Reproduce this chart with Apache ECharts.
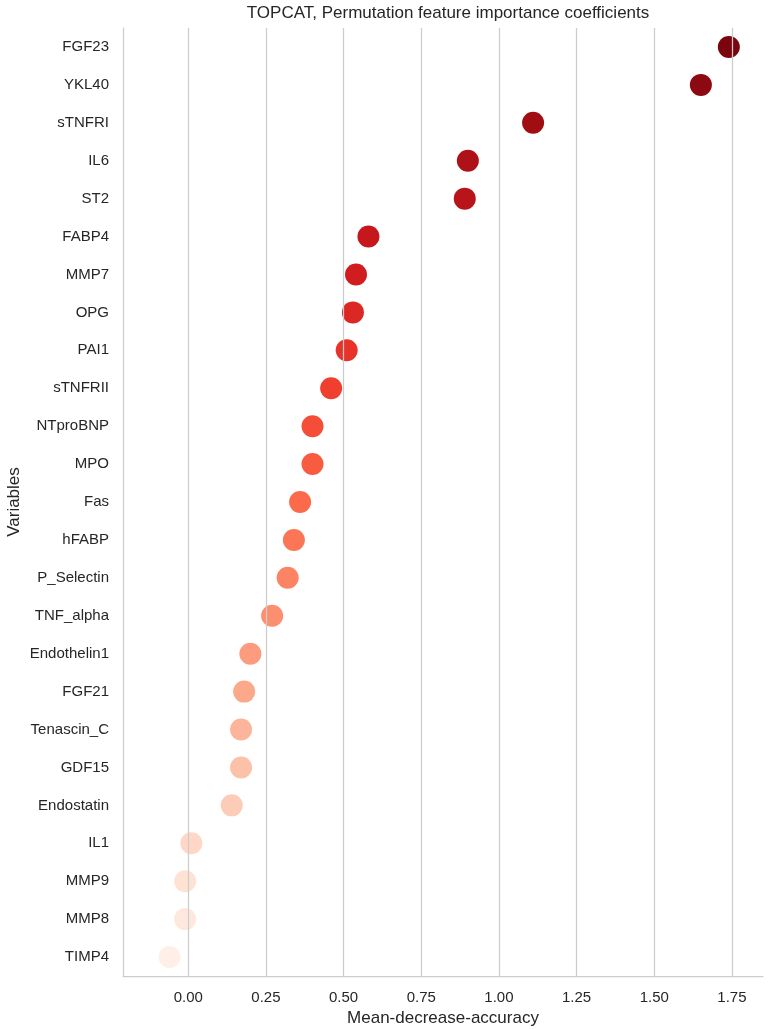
<!DOCTYPE html>
<html>
<head>
<meta charset="utf-8">
<script src="https://cdn.jsdelivr.net/npm/echarts@6/dist/echarts.min.js"></script>
<style>
html,body{margin:0;padding:0;background:#fff;}
#chart{width:768px;height:1029px;}
</style>
</head>
<body>
<div id="chart"></div>
<script>
const variables = ["FGF23","YKL40","sTNFRI","IL6","ST2","FABP4","MMP7","OPG","PAI1","sTNFRII","NTproBNP","MPO","Fas","hFABP","P_Selectin","TNF_alpha","Endothelin1","FGF21","Tenascin_C","GDF15","Endostatin","IL1","MMP9","MMP8","TIMP4"];
const importance = [1.74,1.65,1.11,0.90,0.89,0.58,0.54,0.53,0.51,0.46,0.40,0.40,0.36,0.34,0.32,0.27,0.20,0.18,0.17,0.17,0.14,0.01,-0.01,-0.01,-0.06];
const xTicks = [0,0.25,0.5,0.75,1.0,1.25,1.5,1.75];

// matplotlib "Reds" colormap stops (ColorBrewer)
const redsStops = ["#fff5f0","#fee0d2","#fcbba1","#fc9272","#fb6a4a","#ef3b2c","#cb181d","#a50f15","#67000d"];
function hex2rgb(h){return [parseInt(h.slice(1,3),16),parseInt(h.slice(3,5),16),parseInt(h.slice(5,7),16)];}
function reds(t){
  const n = redsStops.length-1;
  const p = Math.min(Math.max(t,0),1)*n;
  const i = Math.min(Math.floor(p), n-1);
  const f = p - i;
  const a = hex2rgb(redsStops[i]), b = hex2rgb(redsStops[i+1]);
  const c = a.map((v,k)=>Math.round(v+(b[k]-v)*f));
  return "rgb("+c.join(",")+")";
}
const N = variables.length;
const colors = variables.map((_,i)=>reds((N - i)/(N+1)));

const textColor = "#262626";
const font = "'Liberation Sans', Arial, sans-serif";

const chart = echarts.init(document.getElementById('chart'), null, {renderer:'canvas'});
chart.setOption({
  animation:false,
  backgroundColor:'#fff',
  title:{
    text:"TOPCAT, Permutation feature importance coefficients",
    left:443, top:0, textAlign:'center',
    textStyle:{fontFamily:font,fontSize:17,fontWeight:'normal',color:textColor}
  },
  grid:{left:123,right:5,top:28,bottom:53,containLabel:false,outerBoundsMode:'none'},
  xAxis:{
    type:'value', min:-0.21, max:1.85,
    name:"Mean-decrease-accuracy", nameLocation:'middle', nameGap:34,
    nameMoveOverlap:false,
    nameTextStyle:{fontFamily:font,fontSize:17,color:textColor},
    axisLine:{show:true,onZero:false,lineStyle:{color:'#cccccc',width:1.25}},
    axisTick:{show:false},
    splitLine:{show:false},
    axisLabel:{customValues:xTicks,formatter:v=>Number(v).toFixed(2),fontFamily:font,fontSize:15,color:textColor,margin:14}
  },
  yAxis:{
    type:'category', data:variables, inverse:true, boundaryGap:true,
    name:"Variables", nameLocation:'middle', nameGap:100, nameRotate:90,
    nameMoveOverlap:false,
    nameTextStyle:{fontFamily:font,fontSize:17,color:textColor},
    axisLine:{show:true,onZero:false,lineStyle:{color:'#cccccc',width:1.25}},
    axisTick:{show:false},
    splitLine:{show:false},
    axisLabel:{fontFamily:font,fontSize:15,color:textColor,margin:14}
  },
  series:[
    {
      type:'line', data:[], z:1, silent:true,
      markLine:{
        symbol:['none','none'], silent:true, animation:false,
        label:{show:false},
        lineStyle:{color:'#cccccc',width:1.25,type:'solid',opacity:1},
        data:xTicks.map(v=>({xAxis:v}))
      }
    },
    {
      type:'scatter', z:3, symbolSize:22,
      data:importance.map((v,i)=>({value:[v,variables[i]],itemStyle:{color:colors[i],opacity:1}}))
    }
  ]
});
</script>
</body>
</html>
